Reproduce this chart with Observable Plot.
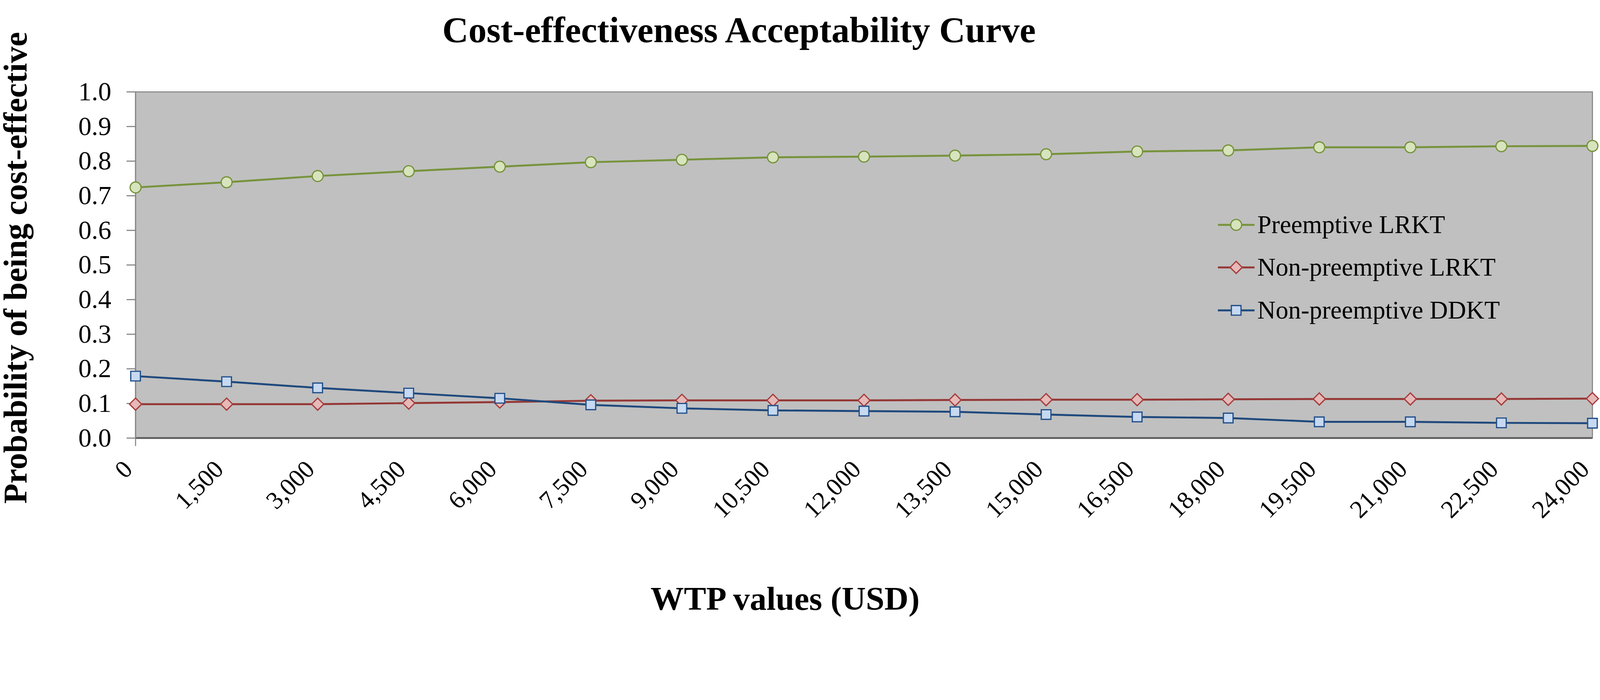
<!DOCTYPE html>
<html>
<head>
<meta charset="utf-8">
<script src="https://cdn.jsdelivr.net/npm/d3@7"></script>
<script src="https://cdn.jsdelivr.net/npm/@observablehq/plot@0.6"></script>
<style>
  html, body { margin: 0; padding: 0; background: white; overflow: hidden; }
  #chart svg { display: block; }
</style>
</head>
<body>
<div id="chart"></div>
<script>
// ---- Data ----
const wtpValues = [0, 1500, 3000, 4500, 6000, 7500, 9000, 10500, 12000, 13500, 15000, 16500, 18000, 19500, 21000, 22500, 24000];
const preemptiveLRKT    = [0.724, 0.739, 0.757, 0.771, 0.784, 0.797, 0.804, 0.811, 0.813, 0.816, 0.820, 0.828, 0.831, 0.840, 0.840, 0.843, 0.844];
const nonPreemptiveLRKT = [0.098, 0.098, 0.098, 0.101, 0.104, 0.108, 0.109, 0.109, 0.109, 0.110, 0.111, 0.111, 0.112, 0.113, 0.113, 0.113, 0.114];
const nonPreemptiveDDKT = [0.179, 0.163, 0.145, 0.130, 0.115, 0.096, 0.086, 0.080, 0.078, 0.076, 0.068, 0.061, 0.058, 0.047, 0.047, 0.044, 0.043];
const seriesNames = ["Preemptive LRKT", "Non-preemptive LRKT", "Non-preemptive DDKT"];
const yTicks = [0, 0.1, 0.2, 0.3, 0.4, 0.5, 0.6, 0.7, 0.8, 0.9, 1.0];
const xTicks = [0, 1500, 3000, 4500, 6000, 7500, 9000, 10500, 12000, 13500, 15000, 16500, 18000, 19500, 21000, 22500, 24000];
const titleText = "Cost-effectiveness Acceptability Curve";
const xTitle = "WTP values (USD)";
const yTitle = "Probability of being cost-effective";

// ---- Styles ----
const seriesStyle = [
  {symbol: "circle",   line: "#77933C", fill: "#D7E4BD", stroke: "#77933C"},
  {symbol: "diamond2", line: "#953735", fill: "#E6B9B8", stroke: "#A53E3C"},
  {symbol: "square",   line: "#1F497D", fill: "#C6D9F1", stroke: "#24508A"}
];
const valuesBySeries = [preemptiveLRKT, nonPreemptiveLRKT, nonPreemptiveDDKT];

const rows = [];
seriesNames.forEach((name, i) => {
  wtpValues.forEach((w, j) => rows.push({series: name, idx: i, wtp: w, p: valuesBySeries[i][j]}));
});

// legend layout (expressed in the plot's data units)
const legendLineX = [17830, 18433];
const legendMarkX = 18131;
const legendTextX = 18480;
const legendY = [0.616, 0.493, 0.369];
const legendRows = seriesNames.map((name, i) => ({name, idx: i, y: legendY[i]}));

const W = 4550, H = 1793;
const mL = 385, mR = 22, mT = 261, mB = 547;
const font = "'Liberation Serif', 'Times New Roman', serif";

const marks = [
  Plot.frame({fill: "#C0C0C0", stroke: "#858585", strokeWidth: 3}),
  Plot.ruleY([0], {stroke: "#5a5a5a", strokeWidth: 5}),
  Plot.ruleX([0], {stroke: "#858585", strokeWidth: 3, insetBottom: -23}),
  Plot.axisY({ticks: yTicks, tickFormat: d3.format(".1f"), tickSize: 25, tickPadding: 44,
              fontSize: 75, stroke: "#7f7f7f", strokeWidth: 3, label: null}),
  Plot.text(xTicks, {x: d => d, frameAnchor: "bottom", text: d3.format(","), rotate: -45,
              textAnchor: "end", lineAnchor: "middle", dx: -21, dy: 77, fontSize: 71, fill: "black"})
];

seriesStyle.forEach((s, i) => {
  const data = rows.filter(r => r.idx === i);
  marks.push(Plot.line(data, {x: "wtp", y: "p", stroke: s.line, strokeWidth: 5.5}));
});
seriesStyle.forEach((s, i) => {
  const data = rows.filter(r => r.idx === i);
  marks.push(Plot.dot(data, {x: "wtp", y: "p", symbol: () => s.symbol, r: 15.5, fill: s.fill, stroke: s.stroke, strokeWidth: 3.5}));
  // legend entry
  const lg = legendRows.filter(r => r.idx === i);
  marks.push(Plot.link(lg, {x1: () => legendLineX[0], x2: () => legendLineX[1], y1: "y", y2: "y", stroke: s.line, strokeWidth: 5.5}));
  marks.push(Plot.dot(lg, {x: () => legendMarkX, y: "y", symbol: () => s.symbol, r: 15.5, fill: s.fill, stroke: s.stroke, strokeWidth: 3.5}));
  marks.push(Plot.text(lg, {x: () => legendTextX, y: "y", text: "name", textAnchor: "start", fontSize: 72, fill: "black"}));
});

// titles
marks.push(Plot.text([titleText], {frameAnchor: "top-left", dx: 2101 - mL, dy: 46 - mT, text: d => d,
  textAnchor: "middle", fontSize: 103, fontWeight: "bold", fill: "black"}));
marks.push(Plot.text([xTitle], {frameAnchor: "bottom-left", dx: 2232 - mL, dy: 1735 - (H - mB), text: d => d,
  textAnchor: "middle", fontSize: 95, fontWeight: "bold", fill: "black"}));
marks.push(Plot.text([yTitle], {frameAnchor: "left", dx: 45 - mL, dy: 8, text: d => d, rotate: -90,
  textAnchor: "middle", fontSize: 94, fontWeight: "bold", fill: "black"}));

const chart = Plot.plot({
  width: W, height: H,
  marginLeft: mL, marginRight: mR, marginTop: mT, marginBottom: mB,
  style: {fontFamily: font, background: "white", color: "black", overflow: "visible"},
  x: {type: "linear", domain: [0, 24000], axis: null},
  y: {domain: [0, 1]},
  symbol: {type: "identity"},
  marks
});
document.getElementById("chart").appendChild(chart);
</script>
</body>
</html>
